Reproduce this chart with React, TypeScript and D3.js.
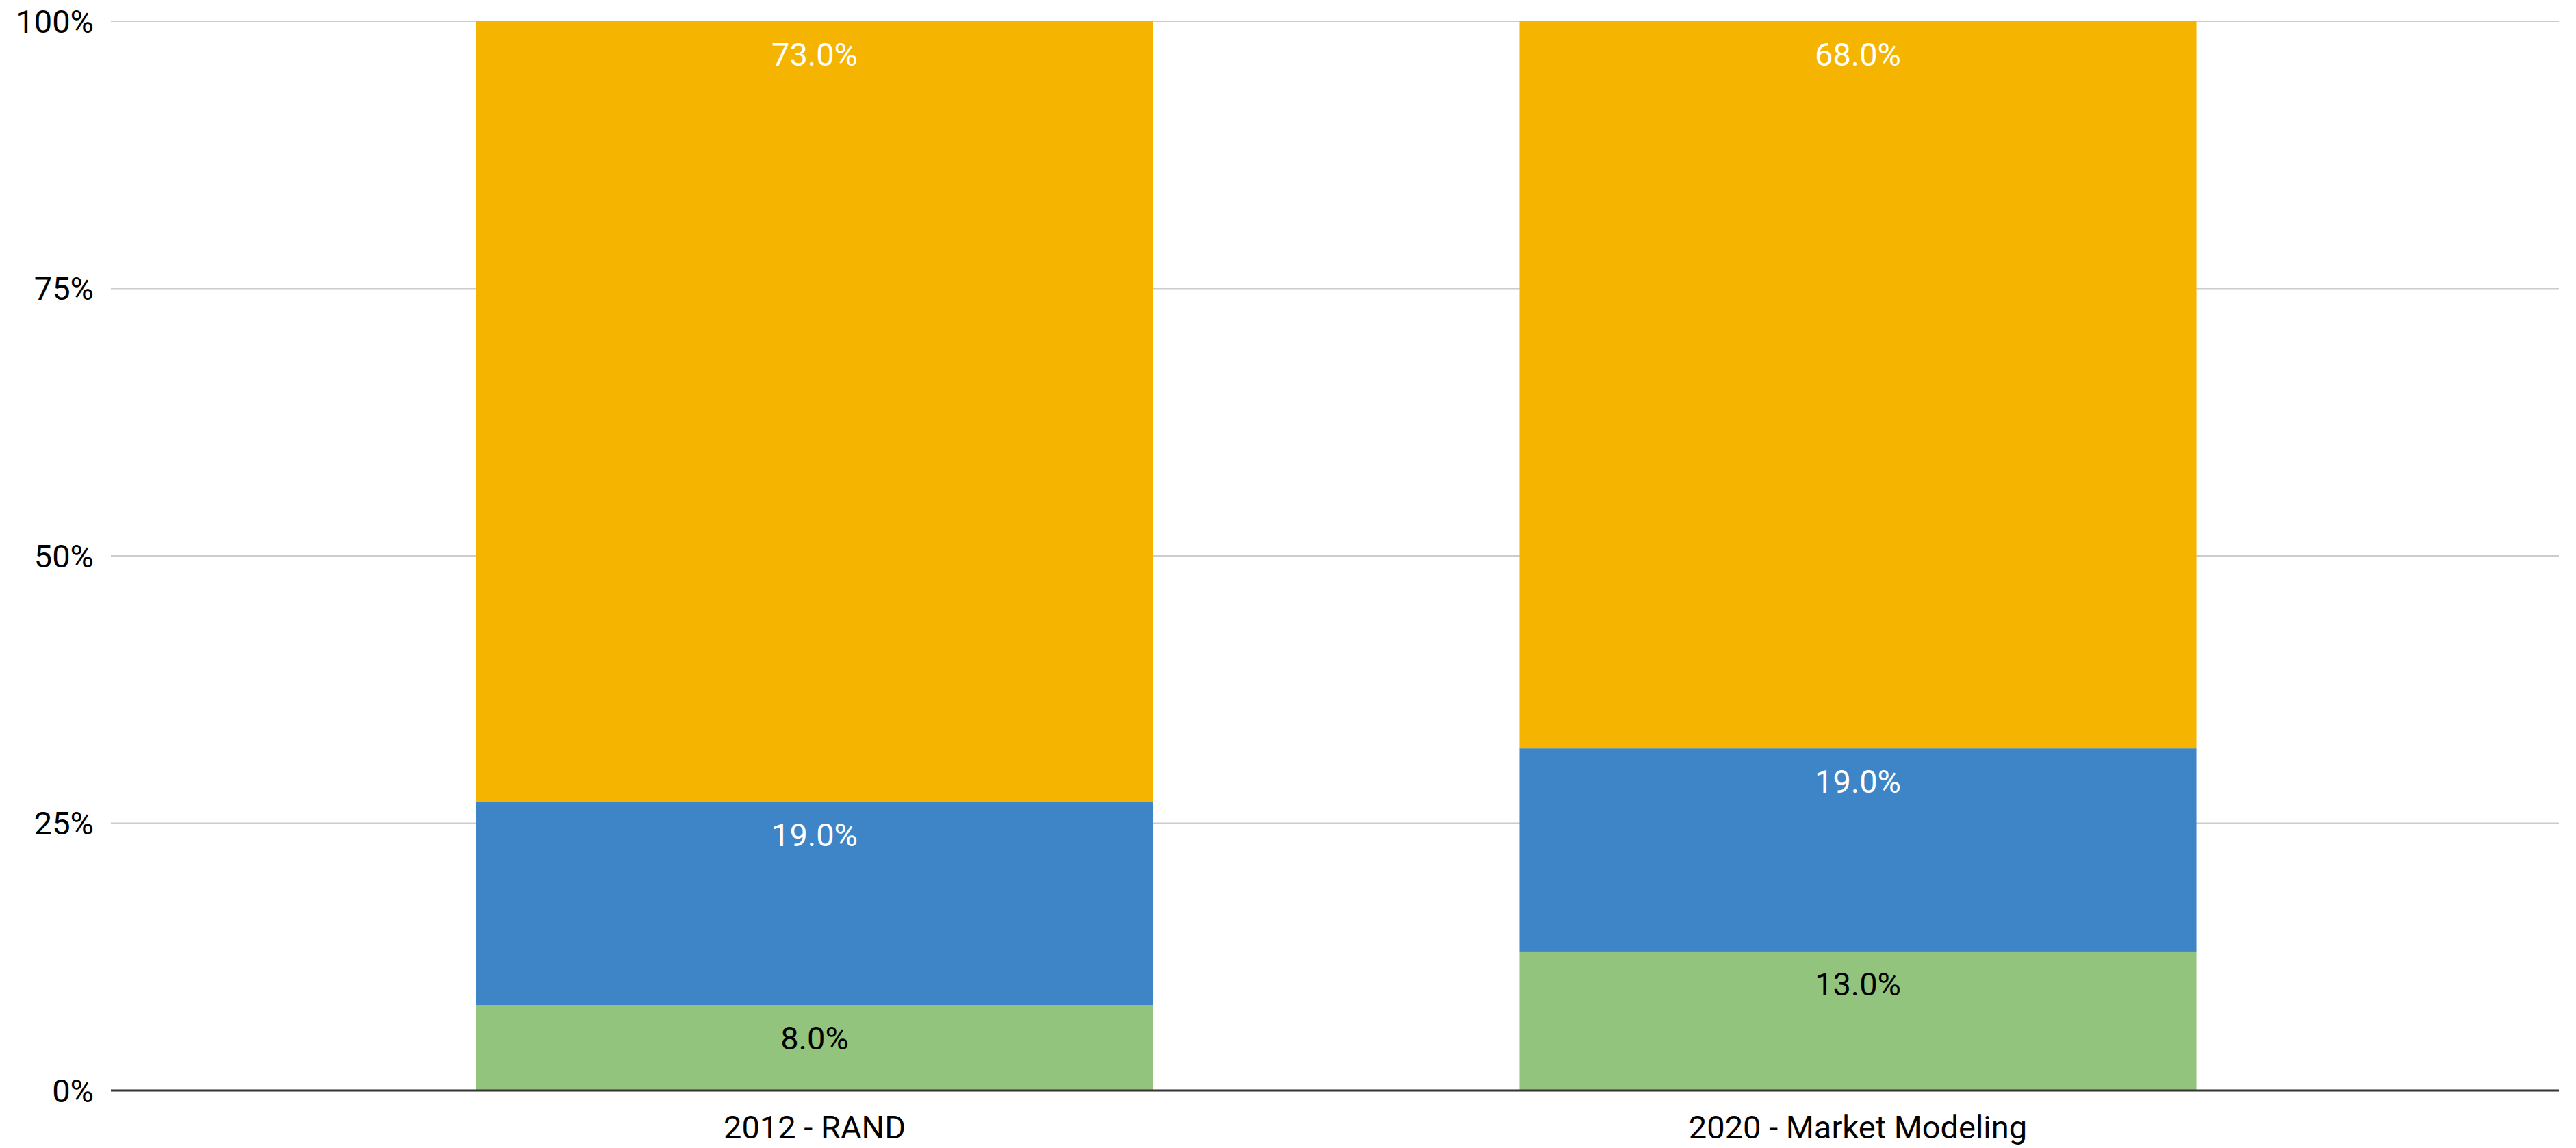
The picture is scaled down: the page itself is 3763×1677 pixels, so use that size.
import React from "react";
import * as d3 from "d3";

const categories = ["2012 - RAND", "2020 - Market Modeling"];
const seriesNames = ["green", "blue", "yellow"];
const greenValues = [8, 13];
const blueValues = [19, 19];
const yellowValues = [73, 68];
const yTicks = [0, 25, 50, 75, 100];
const colors = ["#93C47D", "#3E85C7", "#F4B400"];
const labelColors = ["#000000", "#ffffff", "#ffffff"];

const W = 3763;
const H = 1677;
const FONT = "Roboto, 'Noto Sans', sans-serif";

export default function App() {
  const y = d3.scaleLinear().domain([0, 100]).range([1593, 31]);
  const x = d3.scaleBand().domain(categories).range([428, 3476]).paddingInner(0.351).paddingOuter(0.1755);
  const rows = categories.map((c, i) => ({
    cat: c,
    green: greenValues[i],
    blue: blueValues[i],
    yellow: yellowValues[i],
  }));
  const stack = d3.stack<any>().keys(seriesNames)(rows);
  const gridLeft = 162;
  const gridRight = 3738;

  return (
    <svg width={W} height={H} style={{ position: "absolute", left: 0, top: 0, background: "#fff" }} fontFamily={FONT}>
      {yTicks.filter((t) => t !== 0).map((t) => (
        <line key={t} x1={gridLeft} x2={gridRight} y1={y(t)} y2={y(t)} stroke="#cccccc" strokeWidth={2} />
      ))}
      {yTicks.map((t) => (
        <text key={"t" + t} x={137} y={y(t)} textAnchor="end" dominantBaseline="central" fontSize={47} fill="#000">
          {t + "%"}
        </text>
      ))}
      {stack.map((layer, si) => (
        <g key={si}>
          {layer.map((d: any, i: number) => {
            const x0 = x(categories[i]) as number;
            const top = y(d[1]);
            const bottom = y(d[0]);
            return (
              <g key={i}>
                <rect x={x0} y={top} width={x.bandwidth()} height={bottom - top} fill={colors[si]} />
                <text
                  x={x0 + x.bandwidth() / 2}
                  y={top + 48}
                  textAnchor="middle"
                  dominantBaseline="central"
                  fontSize={47}
                  fill={labelColors[si]}
                >
                  {(d[1] - d[0]).toFixed(1) + "%"}
                </text>
              </g>
            );
          })}
        </g>
      ))}
      <line x1={gridLeft} x2={gridRight} y1={y(0)} y2={y(0)} stroke="#333333" strokeWidth={3} />
      {categories.map((c) => (
        <text
          key={c}
          x={(x(c) as number) + x.bandwidth() / 2}
          y={1646}
          textAnchor="middle"
          dominantBaseline="central"
          fontSize={47}
          fill="#000"
        >
          {c}
        </text>
      ))}
    </svg>
  );
}
